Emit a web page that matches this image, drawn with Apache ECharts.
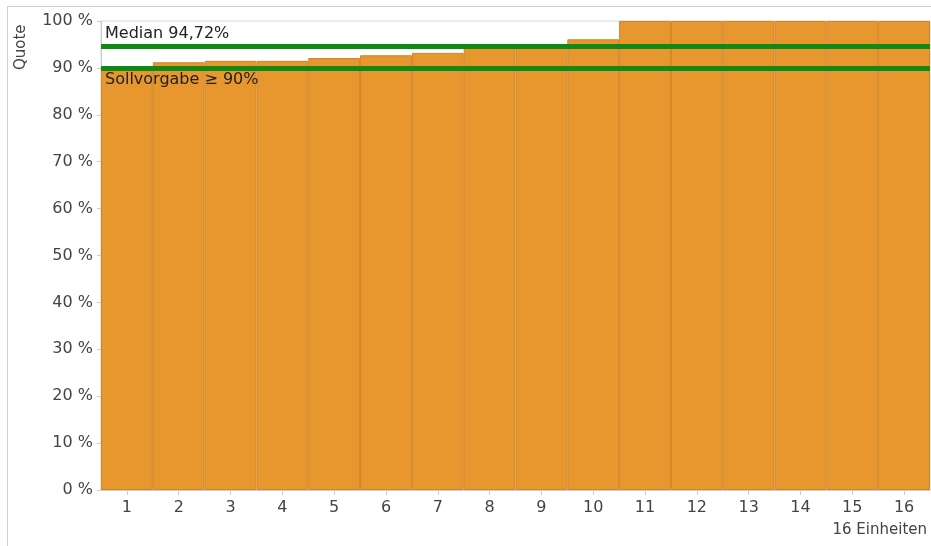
<!DOCTYPE html>
<html>
<head>
<meta charset="utf-8">
<script src="https://cdn.jsdelivr.net/npm/echarts@6/dist/echarts.min.js"></script>
<style>
html,body{margin:0;padding:0;background:#fff;}
#c{width:931px;height:546px;}
</style>
</head>
<body>
<div id="c"></div>
<script>
const categories = ['1','2','3','4','5','6','7','8','9','10','11','12','13','14','15','16'];
const quoteValues = [90.2, 91.2, 91.5, 91.5, 92.1, 92.7, 93.2, 94.5, 94.94, 96.1, 100, 100, 100, 100, 100, 100];
const medianValue = 94.72;
const targetValue = 90;
const medianLabel = 'Median 94,72%';
const targetLabel = 'Sollvorgabe \u2265 90%';
const yAxisName = 'Quote';
const xAxisName = '16 Einheiten';

const FONT = 'DejaVu Sans';
const chart = echarts.init(document.getElementById('c'));
chart.setOption({
  animation: false,
  textStyle: { fontFamily: FONT },
  graphic: [
    { type: 'rect', shape: { x: 7.5, y: 6.5, width: 940, height: 560 },
      style: { fill: 'none', stroke: '#cfcfcf', lineWidth: 1 }, silent: true, z: -1 },
    { type: 'text', x: 14, y: 70, rotation: Math.PI / 2,
      style: { text: yAxisName, fill: '#444', font: '15px "DejaVu Sans"', textAlign: 'left', textVerticalAlign: 'top' } },
    { type: 'text', right: 4, top: 523,
      style: { text: xAxisName, fill: '#444', font: '15px "DejaVu Sans"' } }
  ],
  grid: { left: 101, right: 1, top: 21, bottom: 56, show: true, borderColor: '#d6d6d6', borderWidth: 1, backgroundColor: 'transparent' },
  xAxis: {
    type: 'category',
    data: categories,
    boundaryGap: true,
    axisLine: { show: true, lineStyle: { color: '#cccccc' } },
    axisTick: { show: true, alignWithLabel: true, length: 5, lineStyle: { color: '#cccccc' } },
    axisLabel: { color: '#444', fontSize: 16, fontFamily: FONT, margin: 10 },
    splitLine: { show: false }
  },
  yAxis: {
    type: 'value',
    min: 0, max: 100, interval: 10,
    axisLine: { show: true, lineStyle: { color: '#cccccc' } },
    axisTick: { show: true, length: 4, lineStyle: { color: '#cccccc' } },
    axisLabel: { color: '#444', fontSize: 16, fontFamily: FONT, margin: 8, formatter: '{value} %' },
    splitLine: { show: false }
  },
  series: [{
    type: 'bar',
    data: quoteValues,
    barCategoryGap: '0%',
    itemStyle: { color: '#E8962E', borderColor: '#D08628', borderWidth: 1 },
    markLine: {
      silent: true,
      symbol: ['none', 'none'],
      lineStyle: { color: '#108A16', width: 5, type: 'solid' },
      label: { show: true, color: '#222', fontSize: 16, fontFamily: FONT },
      data: [
        { yAxis: medianValue, label: { position: 'insideStartTop', formatter: medianLabel, distance: [4, 4] } },
        { yAxis: targetValue, label: { position: 'insideStartBottom', formatter: targetLabel, distance: [4, 4] } }
      ]
    }
  }]
});
</script>
</body>
</html>
